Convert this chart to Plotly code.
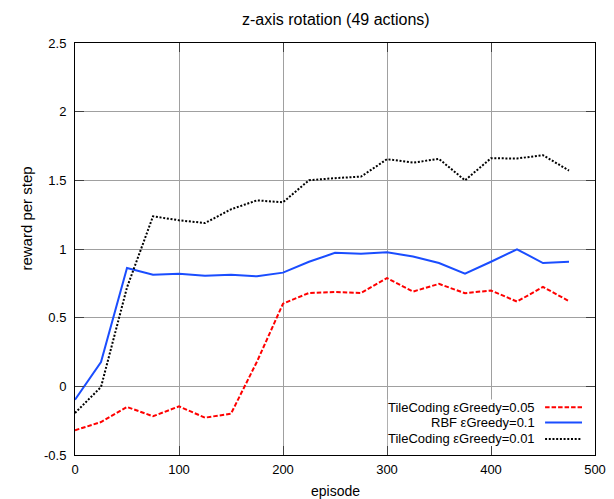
import plotly.graph_objects as go

episodes = [0, 25, 50, 75, 100, 125, 150, 175, 200, 225, 250, 275, 300, 325, 350, 375, 400, 425, 450, 475]
tile_005 = [-0.32, -0.26, -0.15, -0.218, -0.146, -0.228, -0.199, 0.18, 0.602, 0.68, 0.687, 0.68, 0.788, 0.69, 0.746, 0.678, 0.698, 0.617, 0.724, 0.62]
rbf_01 = [-0.097, 0.177, 0.862, 0.813, 0.82, 0.806, 0.813, 0.801, 0.828, 0.907, 0.972, 0.966, 0.976, 0.946, 0.898, 0.82, 0.907, 0.998, 0.898, 0.907]
tile_001 = [-0.194, -0.005, 0.72, 1.238, 1.209, 1.189, 1.289, 1.354, 1.34, 1.501, 1.516, 1.527, 1.654, 1.629, 1.656, 1.5, 1.661, 1.659, 1.683, 1.571]

series_names = ["TileCoding \u03b5Greedy=0.05", "RBF \u03b5Greedy=0.1", "TileCoding \u03b5Greedy=0.01"]
series_vals = [tile_005, rbf_01, tile_001]
colors = ["#ff0000", "#1a4dff", "#000000"]
dashes = ["4.5px,2px", "solid", "2px,1.7px"]

FONT = "Liberation Sans, Arial, sans-serif"

fig = go.Figure()
for name, vals, c, d in zip(series_names, series_vals, colors, dashes):
    fig.add_trace(go.Scatter(x=episodes, y=vals, mode="lines", name=name,
                             line=dict(color=c, width=2, dash=d), showlegend=False))

# key box (opaque) and manual legend entries with sample on the right
shapes = [dict(type="rect", xref="x", yref="y", x0=300.8, x1=499.5, y0=-0.436, y1=-0.095,
               fillcolor="white", line=dict(width=0), layer="between")]
annotations = []
leg_y = [-0.152, -0.264, -0.383]
for name, c, d, yy in zip(series_names, colors, dashes, leg_y):
    annotations.append(dict(x=444.5, y=yy, xref="x", yref="y", text=name, showarrow=False,
                            xanchor="right", yanchor="middle", font=dict(family=FONT, size=13, color="black")))
    shapes.append(dict(type="line", xref="x", yref="y", x0=452, x1=487.5, y0=yy, y1=yy,
                       line=dict(color=c, width=2, dash=d), layer="above"))

# axis titles
annotations.append(dict(x=-0.0933, y=0.575, xref="paper", yref="paper", text="reward per step",
                        textangle=-90, showarrow=False, xanchor="center", yanchor="middle",
                        font=dict(family=FONT, size=15, color="black")))
annotations.append(dict(x=0.501, y=-0.088, xref="paper", yref="paper", text="episode",
                        showarrow=False, xanchor="center", yanchor="middle",
                        font=dict(family=FONT, size=14, color="black")))

fig.update_layout(
    width=614, height=499,
    margin=dict(l=75, r=19, t=43, b=44, autoexpand=False),
    paper_bgcolor="white", plot_bgcolor="white",
    font=dict(family=FONT, size=13, color="black"),
    title=dict(text="z-axis rotation (49 actions)", x=0.547, xanchor="center", y=0.962, yanchor="middle",
               font=dict(family=FONT, size=16, color="black")),
    shapes=shapes, annotations=annotations,
)
fig.update_xaxes(range=[0, 500], tickvals=[0, 100, 200, 300, 400, 500], showgrid=True,
                 gridcolor="#a0a0a0", gridwidth=1, showline=True, linecolor="black", linewidth=1,
                 mirror="ticks", ticks="inside", ticklen=9, tickcolor="#404040",
                 tickfont=dict(family=FONT, size=13), zeroline=False, automargin=False,
                 ticklabelstandoff=2)
fig.update_yaxes(range=[-0.5, 2.5], tickvals=[-0.5, 0, 0.5, 1, 1.5, 2, 2.5],
                 ticktext=["-0.5", "0", "0.5", "1", "1.5", "2", "2.5"], showgrid=True,
                 gridcolor="#a0a0a0", gridwidth=1, showline=True, linecolor="black", linewidth=1,
                 mirror="ticks", ticks="inside", ticklen=9, tickcolor="#404040",
                 tickfont=dict(family=FONT, size=13), zeroline=False, automargin=False,
                 ticklabelstandoff=5)

fig.write_html("out.html", config={"displayModeBar": False},
               post_script="document.body.style.margin='0';document.body.style.overflow='hidden';")
